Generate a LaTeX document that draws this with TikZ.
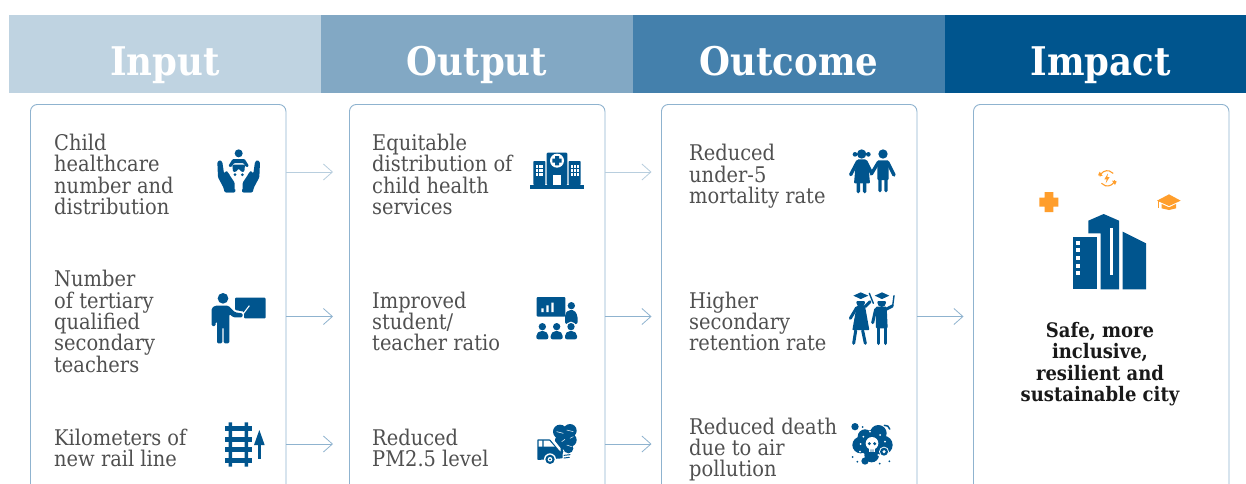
\documentclass[tikz,border=0pt]{standalone}
\usepackage{fontspec}
\setmainfont{DejaVu Serif Condensed}
\usetikzlibrary{arrows.meta}
\definecolor{hA}{HTML}{BFD3E1}
\definecolor{hB}{HTML}{82A8C4}
\definecolor{hC}{HTML}{4480AC}
\definecolor{hD}{HTML}{00558E}
\definecolor{ic}{HTML}{00558E}
\definecolor{org}{HTML}{FF9E2C}
\definecolor{edge}{HTML}{8FB3CF}
\definecolor{txt}{HTML}{505050}
\tikzset{
 hdr/.style={fill=#1,draw=none,minimum width=312pt,minimum height=78pt,anchor=north west,inner sep=0pt},
 htext/.style={anchor=base,text=white,font=\fontsize{39.5}{42}\selectfont\bfseries,inner sep=0pt},
 panel/.style={draw=edge,line width=.9pt,rounded corners=7pt,minimum width=255.5pt,minimum height=430pt,anchor=north west,inner sep=0pt},
 lab/.style={anchor=west,align=left,inner sep=0pt,text=txt,font=\fontsize{21.6}{21.4}\selectfont},
 res/.style={align=center,inner sep=0pt,text=black!90,font=\fontsize{20}{21.4}\selectfont\bfseries},
 conn/.style={draw=edge,line width=.8pt,-{Straight Barb[length=9pt,width=16pt,line width=.8pt]}},
 connl/.style={conn,draw=hA!85!edge},
 icon/.style={shift={#1},scale=1/3,fill=ic,draw=none},
 st/.style={draw=ic,line width=#1,line cap=round,fill=none},
}
\begin{document}
\begin{tikzpicture}[x=1pt,y=-1pt]
\useasboundingbox (0,0) rectangle (1246,483);
\clip (0,0) rectangle (1246,483);
\fill[white] (0,0) rectangle (1246,483);
% headers
\node[hdr=hA] (hI) at (9,15) {};
\node[hdr=hB] (hO) at (321,15) {};
\node[hdr=hC] (hC1) at (633,15) {};
\node[hdr=hD,minimum width=301pt] (hP) at (945,15) {};
\node[htext] (tI) at (165,75.5) {Input};
\node[htext] (tO) at (477,75.5) {Output};
\node[htext] (tC) at (789,75.5) {Outcome};
\node[htext] (tP) at (1100.5,75.5) {Impact};
% panels
\node[panel] (pa) at (30,104) {};
\node[panel] (pb) at (349,104) {};
\node[panel] (pc) at (661,104) {};
\node[panel] (pd) at (973,104) {};
% labels
\node[lab] (a1) at (54,174.5) {Child\\healthcare\\number and\\distribution};
\node[lab] (a2) at (54,321.5) {Number\\of tertiary\\qualified\\secondary\\teachers};
\node[lab] (a3) at (54,448) {Kilometers of\\new rail line};
\node[lab] (b1) at (372,174.5) {Equitable\\distribution of\\child health\\services};
\node[lab] (b2) at (372,321.5) {Improved\\student/\\teacher ratio};
\node[lab] (b3) at (372,448) {Reduced\\PM2.5 level};
\node[lab] (c1) at (689,176.5) {Reduced\\under-5\\mortality rate};
\node[lab] (c2) at (689,321.5) {Higher\\secondary\\retention rate};
\node[lab] (c3) at (689,449.5) {Reduced death\\due to air\\pollution};
\node[res] (d1) at (1100,364) {Safe, more\\inclusive,\\resilient and\\sustainable city};
% connectors
\coordinate (ea1) at (333,172);\coordinate (ea2) at (333,316.5);\coordinate (ea3) at (333,444);
\coordinate (eb1) at (651.5,172);\coordinate (eb2) at (651.5,316.5);\coordinate (eb3) at (651.5,444);
\coordinate (ec2) at (963.5,316.5);
\draw[connl] (pa.east |- ea1) -- (ea1);
\draw[conn] (pa.east |- ea2) -- (ea2);
\draw[conn] (pa.east |- ea3) -- (ea3);
\draw[connl] (pb.east |- eb1) -- (eb1);
\draw[conn] (pb.east |- eb2) -- (eb2);
\draw[conn] (pb.east |- eb3) -- (eb3);
\draw[conn] (pc.east |- ec2) -- (ec2);
% hands and baby
\begin{scope}[icon={(200,130)}]
\fill[ic,rounded corners=1pt] (52,96)--(60,90)--(67,96)--(72,130)--(80,122)--(106,160)--(106,187)--(74,187)--(70,172)--(54,142)--cycle;
\fill[ic,rounded corners=1pt] (180,96)--(172,90)--(165,96)--(160,130)--(152,122)--(126,160)--(126,187)--(158,187)--(162,172)--(178,142)--cycle;
\fill[white] (116,150) ellipse (32 and 30);
\fill[ic] (116,70) circle (12);
\fill[ic,rounded corners=1pt] (85,108)--(98,87)--(134,87)--(147,108)--(139,112)--(130,99)--(102,99)--(93,112)--cycle;
\fill[ic,rounded corners=1pt] (97,104)--(135,104)--(133,125)--(125,126)--(116,116)--(107,126)--(99,125)--cycle;
\fill[ic] (105,134) circle (4.5) (127,134) circle (4.5);
\fill[ic,rounded corners=1pt] (84,128)--(104,158)--(104,187)--(76,187)--(72,170)--cycle;
\fill[ic,rounded corners=1pt] (148,128)--(128,158)--(128,187)--(156,187)--(160,170)--cycle;
\end{scope}
% teacher
\begin{scope}[icon={(200,130)}]
\fill[ic] (69,505) circle (16);
\fill[ic,rounded corners=1.3pt] (35,588)--(35,535)--(45,527)--(85,527)--(105,547)--(128,550)--(128,562)--(100,562)--(88,552)--(88,640)--(71,640)--(71,592)--(67,592)--(67,640)--(51,640)--(51,575)--(47,575)--(47,588)--cycle;
\fill[ic,rounded corners=1pt] (105,503)--(197,503)--(197,565)--(132,565)--(132,545)--(105,540)--cycle;
\draw[white,line width=1.1pt] (130,551)--(148,527);
\end{scope}
% railway
\begin{scope}[icon={(200,130)}]
\fill[ic] (86,877) rectangle (96,1010) (134,877) rectangle (144,1010);
\foreach \y in {888,920,951,983} \fill[ic] (76,\y) rectangle (156,\y+15);
\fill[ic] (174,988) rectangle (182,940);
\fill[ic] (162,945)--(178,900)--(194,945)--cycle;
\end{scope}
% hospital
\begin{scope}[icon={(520,130)}]
\fill[ic] (30,165) rectangle (191,176);
\fill[ic,rounded corners=.7pt] (40,165)--(40,93)--(76,93)--(76,165)--cycle;
\fill[ic,rounded corners=.7pt] (146,165)--(146,93)--(182,93)--(182,165)--cycle;
\fill[ic,rounded corners=1pt] (80,165)--(80,68)--(142,68)--(142,165)--cycle;
\fill[white] (111,92) circle (21);
\fill[ic] (105,78) rectangle (117,106) (97,86) rectangle (125,98);
\fill[white] (99,135) rectangle (124,165);
\foreach \x in {0,1,2} \foreach \y in {0,1,2} {
 \fill[white] (48+8*\x,106+12*\y) rectangle +(6,7);
 \fill[white] (154+8*\x,106+12*\y) rectangle +(6,7);}
\end{scope}
% classroom
\begin{scope}[icon={(520,130)}]
\fill[ic,rounded corners=1pt] (50,501) rectangle (136,560);
\fill[white] (64,535) rectangle (71,546) (79,526) rectangle (86,546) (94,518) rectangle (101,546);
\fill[ic] (154,527) circle (11);
\fill[ic,rounded corners=2pt] (135,582)--(135,552)--(145,540)--(163,540)--(173,558)--(173,582)--cycle;
\fill[white] (153,590) circle (15);
\foreach \x in {67,110,153} {
 \fill[ic] (\x,590) circle (11);
 \fill[ic,rounded corners=2pt] (\x-18,628)--(\x-18,612)--(\x-8,603)--(\x+8,603)--(\x+18,612)--(\x+18,628)--cycle;}
\end{scope}
% car and smoke
\begin{scope}[icon={(520,130)}]
\fill[ic] (120,905) circle (21) (150,902) circle (20) (150,930) circle (20) (128,935) circle (24) (145,955) circle (15) (120,965) circle (10) (135,920) circle (28);
\draw[white,line width=.5pt] (110,905)--(130,910) (140,900)--(160,905) (125,935)--(135,928) (140,945)--(155,950) (150,925)--(160,920);
\fill[white] (48,920)--(94,920)--(122,955)--(122,1000)--(48,1000)--cycle;
\fill[ic,rounded corners=.7pt] (52,990)--(52,928)--(90,928)--(118,962)--(128,968)--(128,985)--(52,990)--cycle;
\fill[white] (56,932) rectangle (67,950) (71,932)--(88,932)--(104,950)--(71,950)--cycle;
\fill[white] (90,988) circle (18);
\fill[ic] (90,988) circle (14);
\fill[white] (90,988) circle (7);
\fill[ic] (90,988) circle (3);
\draw[st=1pt] (132,976)--(150,974) (132,984)--(148,982);
\end{scope}
% children
\begin{scope}[icon={(840,130)}]
\fill[ic] (65,72) circle (14) (45,73) circle (7) (85,73) circle (7);
\fill[ic,rounded corners=1pt] (52,88)--(78,88)--(86,115)--(90,160)--(42,160)--(46,115)--cycle;
\draw[st=3.4pt] (53,94)--(32,134) (77,94)--(94,128) (55,160)--(55,185) (74,160)--(74,185);
\fill[ic] (129,72) circle (14);
\fill[ic,rounded corners=1pt] (112,91)--(146,91)--(146,150)--(112,150)--cycle;
\draw[st=3.4pt] (115,97)--(94,132) (143,97)--(162,135) (120,148)--(120,182) (138,148)--(138,182);
\end{scope}
% graduates
\begin{scope}[icon={(840,130)}]
\fill[ic] (62,518) circle (13);
\fill[white] (45,508) rectangle (80,512);
\fill[ic] (40,497)--(62,487)--(85,497)--(62,507)--cycle;
\fill[ic,rounded corners=.7pt] (50,528)--(75,528)--(88,600)--(37,600)--cycle;
\draw[st=3pt] (50,533)--(31,565) (75,530)--(90,515) (47,602)--(41,640) (68,602)--(76,640);
\draw[st=1.4pt] (88,490)--(100,520);
\fill[ic] (125,518) circle (13);
\fill[white] (108,508) rectangle (143,512);
\fill[ic] (104,497)--(126,487)--(148,497)--(126,507)--cycle;
\fill[ic,rounded corners=1pt] (107,530)--(140,530)--(143,595)--(108,595)--cycle;
\draw[st=3pt] (107,538)--(98,578) (140,537)--(157,528);
\draw[st=3.6pt] (115,595)--(115,640) (137,595)--(137,640);
\draw[st=1.4pt] (158,528)--(162,497);
\end{scope}
% pollution
\begin{scope}[icon={(840,130)}]
\fill[ic] (97,940) circle (40) (62,945) circle (25) (130,945) circle (28) (115,910) circle (25) (75,920) circle (22) (95,975) circle (22);
\fill[ic] (45,890) circle (11) (75,993) circle (11);
\draw[st=1.5pt] (133,886) arc (-100:-10:14);
\fill[white] (132,965) circle (15);
\fill[ic] (132,965) circle (12);
\fill[white] (132,965) circle (5);
\fill[ic] (68,891) circle (3) (38,981) circle (3) (52,995) circle (3) (119,1001) circle (3) (148,994) circle (3);
\fill[white] (96,940) circle (19);
\fill[white] (86,948) rectangle (106,966);
\fill[ic] (88,941) circle (5) (104,941) circle (5) (92,958) rectangle (94,966) (98,958) rectangle (100,966);
\fill[white] (90,905) circle (3) (120,915) circle (3) (62,942) circle (3) (135,935) circle (3) (70,920) circle (3) (115,975) circle (3) (60,965) circle (3);
\end{scope}
% impact icons
\begin{scope}[icon={(1010,150)}]
\fill[org] (88,143) rectangle (145,170) (104,126) rectangle (130,186);
\draw[org,line width=1.1pt] (292,85) ++(195:23) arc (195:320:23);
\draw[org,line width=1.1pt] (292,85) ++(15:23) arc (15:140:23);
\fill[org] (264,76)--(278,78)--(269,65)--cycle (320,94)--(306,92)--(315,105)--cycle;
\fill[org] (294,70)--(283,88)--(290,88)--(287,100)--(299,81)--(292,81)--cycle;
\fill[org] (441,152)--(477,133)--(512,152)--(477,168)--cycle;
\fill[org] (455,162)--(477,172)--(498,162)--(498,175)--(477,180)--(455,175)--cycle;
\draw[org,line width=.7pt] (444,152)--(444,175);
\fill[ic] (190,261) rectangle (261,418);
\foreach \y in {272,295,318,341,364} \fill[white] (198,\y) rectangle +(13,12);
\fill[ic] (235,250)--(235,212)--(281,192)--(327,212)--(327,418)--(272,418)--(272,250)--cycle;
\fill[white] (299,234) rectangle (309,376);
\fill[ic] (338,245)--(408,280)--(408,418)--(338,418)--cycle;
\end{scope}
\end{tikzpicture}
\end{document}
